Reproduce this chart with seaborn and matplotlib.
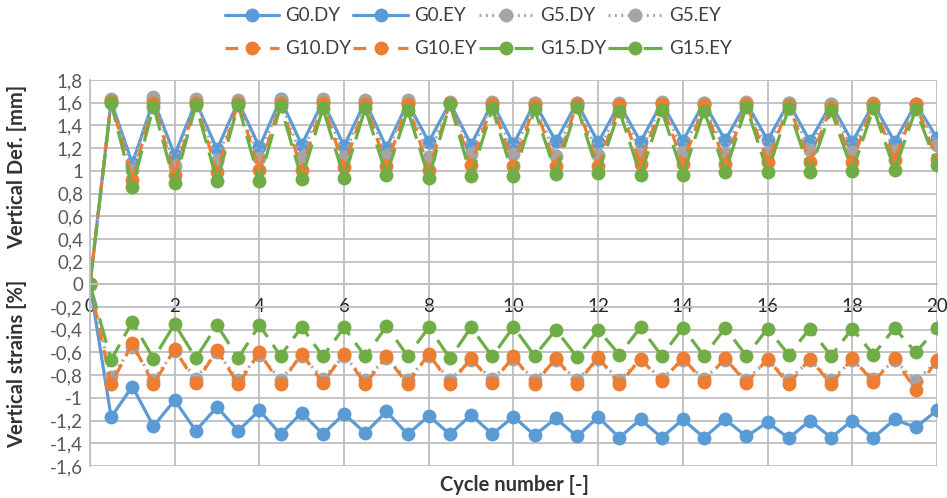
import pandas as pd
import matplotlib.pyplot as plt
import seaborn as sns
from matplotlib.ticker import MultipleLocator, FuncFormatter

# cycle number (x axis)
cycle = [0, 0.5, 1, 1.5, 2, 2.5, 3, 3.5, 4, 4.5, 5, 5.5, 6, 6.5, 7, 7.5, 8, 8.5, 9, 9.5, 10,
         10.5, 11, 11.5, 12, 12.5, 13, 13.5, 14, 14.5, 15, 15.5, 16, 16.5, 17, 17.5, 18, 18.5,
         19, 19.5, 20]

# vertical deformation [mm]
g0_dy = [0, 1.61, 1.065, 1.62, 1.14, 1.61, 1.19, 1.61, 1.21, 1.63, 1.23, 1.61, 1.22, 1.61,
         1.205, 1.60, 1.255, 1.60, 1.23, 1.60, 1.235, 1.60, 1.26, 1.60, 1.25, 1.59, 1.255,
         1.60, 1.265, 1.60, 1.27, 1.60, 1.27, 1.60, 1.26, 1.59, 1.255, 1.59, 1.255, 1.59, 1.29]
g5_dy = [0, 1.63, 1.005, 1.65, 1.04, 1.63, 1.09, 1.62, 1.11, 1.62, 1.12, 1.63, 1.12, 1.62,
         1.13, 1.625, 1.125, 1.61, 1.15, 1.61, 1.15, 1.60, 1.13, 1.60, 1.14, 1.60, 1.15, 1.61,
         1.17, 1.60, 1.16, 1.61, 1.17, 1.60, 1.18, 1.59, 1.17, 1.60, 1.175, 1.59, 1.23]
g10_dy = [0, 1.615, 0.92, 1.60, 0.96, 1.60, 0.99, 1.60, 1.005, 1.60, 1.005, 1.595, 1.03, 1.59,
          1.04, 1.59, 1.01, 1.60, 1.05, 1.59, 1.04, 1.58, 1.04, 1.59, 1.04, 1.58, 1.06, 1.59,
          1.06, 1.58, 1.06, 1.59, 1.08, 1.58, 1.08, 1.565, 1.08, 1.59, 1.095, 1.585, 1.10]
g15_dy = [0, 1.595, 0.855, 1.565, 0.89, 1.58, 0.91, 1.58, 0.91, 1.57, 0.93, 1.55, 0.94, 1.55,
          0.96, 1.535, 0.94, 1.59, 0.95, 1.55, 0.95, 1.54, 0.975, 1.565, 0.98, 1.53, 0.96,
          1.535, 0.96, 1.53, 0.99, 1.565, 0.99, 1.55, 0.99, 1.535, 1.0, 1.55, 1.01, 1.54, 1.05]

# vertical strains [%]
g0_ey = [0, -1.17, -0.90, -1.25, -1.02, -1.29, -1.08, -1.29, -1.11, -1.32, -1.13, -1.32, -1.14,
         -1.31, -1.12, -1.32, -1.16, -1.32, -1.15, -1.32, -1.165, -1.33, -1.18, -1.34, -1.17,
         -1.35, -1.19, -1.35, -1.19, -1.35, -1.19, -1.34, -1.215, -1.355, -1.20, -1.35, -1.20,
         -1.35, -1.19, -1.26, -1.11]
g5_ey = [0, -0.82, -0.55, -0.84, -0.59, -0.83, -0.60, -0.84, -0.62, -0.84, -0.63, -0.83, -0.63,
         -0.84, -0.65, -0.84, -0.63, -0.84, -0.67, -0.83, -0.66, -0.84, -0.67, -0.84, -0.66,
         -0.84, -0.67, -0.83, -0.67, -0.83, -0.67, -0.84, -0.67, -0.84, -0.67, -0.84, -0.67,
         -0.83, -0.67, -0.85, -0.68]
g10_ey = [0, -0.88, -0.52, -0.88, -0.57, -0.87, -0.58, -0.88, -0.60, -0.88, -0.61, -0.87, -0.61,
          -0.88, -0.635, -0.88, -0.61, -0.88, -0.65, -0.87, -0.635, -0.88, -0.65, -0.88, -0.64,
          -0.88, -0.655, -0.855, -0.65, -0.86, -0.65, -0.87, -0.655, -0.88, -0.655, -0.88,
          -0.65, -0.86, -0.65, -0.935, -0.67]
g15_ey = [0, -0.665, -0.33, -0.655, -0.35, -0.65, -0.36, -0.65, -0.36, -0.63, -0.375, -0.635,
          -0.38, -0.635, -0.37, -0.63, -0.38, -0.65, -0.38, -0.635, -0.375, -0.63, -0.40, -0.64,
          -0.40, -0.62, -0.38, -0.63, -0.385, -0.63, -0.385, -0.63, -0.39, -0.62, -0.39, -0.63,
          -0.39, -0.62, -0.385, -0.60, -0.385]

names = ['G0.DY', 'G0.EY', 'G5.DY', 'G5.EY', 'G10.DY', 'G10.EY', 'G15.DY', 'G15.EY']
values = [g0_dy, g0_ey, g5_dy, g5_ey, g10_dy, g10_ey, g15_dy, g15_ey]

# 스타일 (Excel 기본 색)
colors = {'G0': '#5B9BD5', 'G5': '#A5A5A5', 'G10': '#ED7D31', 'G15': '#70AD47'}
dashes = {'G0': '', 'G5': (0.6, 1.4), 'G10': (4, 3), 'G15': (8, 3)}

sns.set_style('white')
plt.rcParams['font.family'] = ['Lato', 'DejaVu Sans']

fig = plt.figure(figsize=(9.47, 4.98), dpi=100)
ax = fig.add_axes([0.095, 0.0643, 0.8944, 0.7751])

handles = {}
for name, vals in zip(names, values):
    grp = name.split('.')[0]
    df = pd.DataFrame({'cycle': cycle, 'value': vals})
    sns.lineplot(data=df, x='cycle', y='value', ax=ax, color=colors[grp],
                 linewidth=2.3, marker='o', markersize=10, markeredgewidth=0,
                 label=name, legend=False)
    line = ax.lines[-1]
    if dashes[grp]:
        line.set_dashes(dashes[grp])
    handles[name] = line

ax.set_xlim(0, 20)
ax.set_ylim(-1.6, 1.8)
ax.xaxis.set_major_locator(MultipleLocator(2))
ax.yaxis.set_major_locator(MultipleLocator(0.2))


def comma_fmt(v, pos):
    v = round(v, 2)
    if abs(v) < 1e-9:
        return '0'
    return f'{v:g}'.replace('.', ',')


ax.yaxis.set_major_formatter(FuncFormatter(comma_fmt))
ax.xaxis.set_major_formatter(FuncFormatter(lambda v, p: f'{v:g}'))
ax.grid(True, color='#BFBFBF', linewidth=1.3)
for s in ['top', 'right']:
    ax.spines[s].set_visible(False)
ax.spines['left'].set_color('#BFBFBF')
ax.spines['left'].set_linewidth(1.3)
ax.spines['bottom'].set_position(('data', 0))
ax.spines['bottom'].set_color('#BFBFBF')
ax.spines['bottom'].set_linewidth(1.3)
ax.tick_params(axis='both', length=0, labelsize=13.5, colors='#595959')
ax.tick_params(axis='y', pad=5)
ax.tick_params(axis='x', pad=10, labelcolor='#262626')
ax.set_xlabel('')
ax.set_ylabel('')

fig.text(0.018, 0.665, 'Vertical Def. [mm]', rotation=90, ha='center', va='center',
         fontsize=14.5, fontweight='bold', color='#333333')
fig.text(0.018, 0.27, 'Vertical strains [%]', rotation=90, ha='center', va='center',
         fontsize=14.5, fontweight='bold', color='#333333')
fig.text(0.543, 0.026, 'Cycle number [-]', ha='center', va='center',
         fontsize=14.5, fontweight='bold', color='#333333')

# legend: 4 columns, filled column by column
order = ['G0.DY', 'G10.DY', 'G0.EY', 'G10.EY', 'G5.DY', 'G15.DY', 'G5.EY', 'G15.EY']
fig.legend([handles[n] for n in order], order, ncol=4, loc='center',
           bbox_to_anchor=(0.505, 0.935), frameon=False, fontsize=13.5,
           handlelength=2.9, handletextpad=0.35, columnspacing=0.1, labelspacing=0.85,
           labelcolor='#404040')

plt.savefig('out.png', dpi=100)
print('finished')
